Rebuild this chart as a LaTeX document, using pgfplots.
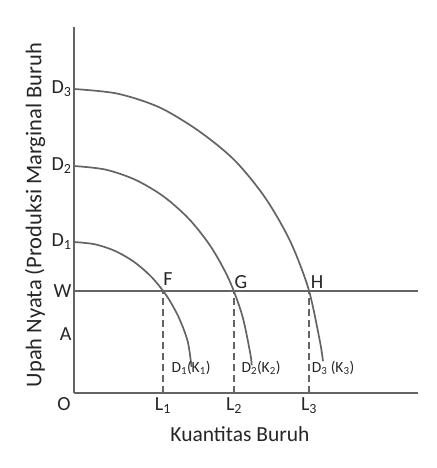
\documentclass[border=0pt]{standalone}
\usepackage{pgfplots}
\pgfplotsset{compat=1.18}
\usepackage{fontspec}
\setmainfont{Carlito}
\definecolor{lc}{RGB}{100,100,100}
\begin{document}
\begin{tikzpicture}
\begin{axis}[
  x=1pt, y=1pt, scale only axis,
  xmin=0, xmax=344, ymin=0, ymax=366,
  axis x line=bottom, axis y line=left,
  axis line style={-, lc, line width=2pt},
  major tick length=0,
  clip=false,
  xtick={89,160,235},
  xticklabels={L\textsubscript{1},L\textsubscript{2},L\textsubscript{3}},
  ytick={59,102,151,227,304},
  yticklabels={A,W,D\textsubscript{1},D\textsubscript{2},D\textsubscript{3}},
  ticklabel style={font=\fontsize{20}{22}\selectfont, text=black!85},
  xticklabel style={anchor=north, yshift=-1pt},
  yticklabel style={anchor=east, xshift=1pt},
]
\path (axis cs:-74,-75) rectangle (axis cs:362,393);
% D1
\addplot[lc, line width=1.7pt, smooth] coordinates {
 (0,151) (21.0,148.7) (41.4,141.9) (60.5,130.8) (77.8,115.7) (92.7,97.1)
 (104.8,75.5) (113.7,51.6) (117.5,26.2)};
% D2
\addplot[lc, line width=1.7pt, smooth] coordinates {
 (0,227) (31.1,223.5) (61.2,213.3) (89.5,196.6) (115.1,173.9) (137.1,145.9)
 (155.0,113.5) (168.2,77.6) (176.3,39.4) (177.7,27.7)};
% D3
\addplot[lc, line width=1.7pt, smooth] coordinates {
 (0,304) (43.3,299.4) (85.3,285.7) (124.8,262.0) (160.4,232.9) (191.1,195.4)
 (216.1,152.0) (234.5,104.0) (245.7,52.8) (249.0,31.8)};
% W line
\addplot[lc, line width=2pt] coordinates {(0,102) (344,102)};
% dashed
\addplot[lc, line width=1.6pt, dash pattern=on 7pt off 4pt] coordinates {(89,0) (89,102)};
\addplot[lc, line width=1.6pt, dash pattern=on 7pt off 4pt] coordinates {(160,0) (160,102)};
\addplot[lc, line width=1.6pt, dash pattern=on 7pt off 4pt] coordinates {(235,0) (235,102)};
% labels
\node[font=\fontsize{20}{22}\selectfont, text=black!85] at (axis cs:-10,-11) {O};
\node[font=\fontsize{20}{22}\selectfont, text=black!85] at (axis cs:94,114) {F};
\node[font=\fontsize{20}{22}\selectfont, text=black!85] at (axis cs:167,111) {G};
\node[font=\fontsize{20}{22}\selectfont, text=black!85] at (axis cs:243,111) {H};
\node[font=\fontsize{15.5}{17}\selectfont, text=black!85] at (axis cs:117,25) {D\textsubscript{1}(K\textsubscript{1})};
\node[font=\fontsize{15.5}{17}\selectfont, text=black!85] at (axis cs:187,25) {D\textsubscript{2}(K\textsubscript{2})};
\node[font=\fontsize{15.5}{17}\selectfont, text=black!85] at (axis cs:259,25) {D\textsubscript{3} (K\textsubscript{3})};
\node[font=\fontsize{21.5}{23}\selectfont, text=black!85] at (axis cs:166,-41) {Kuantitas Buruh};
\node[font=\fontsize{22.5}{24}\selectfont, text=black!85, rotate=90] at (axis cs:-39,178) {Upah Nyata (Produksi Marginal Buruh};
\end{axis}
\end{tikzpicture}
\end{document}
